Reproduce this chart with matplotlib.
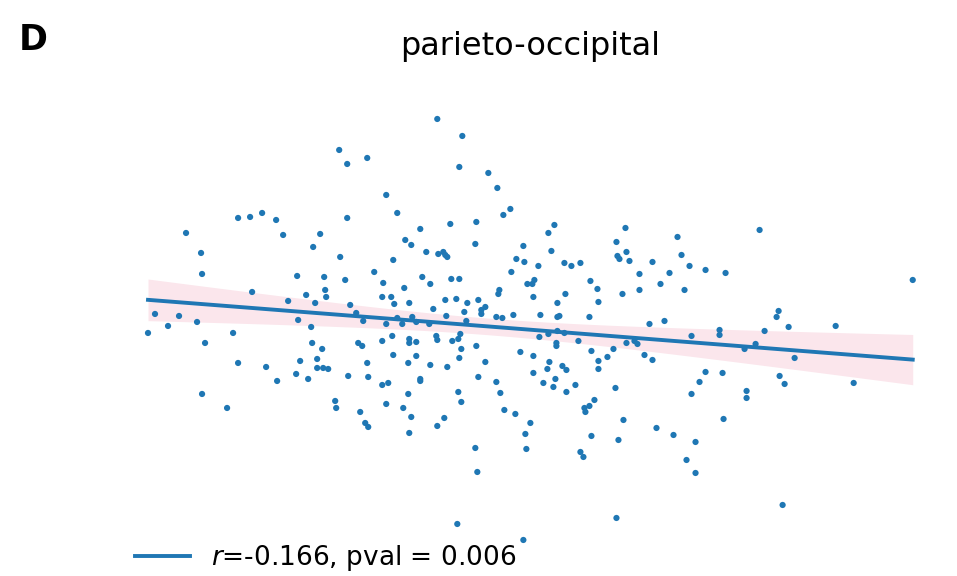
import numpy as np
import matplotlib
matplotlib.use("Agg")
import matplotlib.pyplot as plt

# parieto-occipital measure vs predictor, one value per subject
x_vals = [
    18.7, 20.2, 23.9, 25.1, 26.3, 27.7, 28.4, 31.4, 32.1, 43.8, 46.3, 34.0, 36.8, 34.8, 46.0, 48.9,
    49.8, 38.7, 39.8, 34.8, 51.1, 50.4, 45.1, 47.7, 42.1, 40.6, 41.2, 47.6, 34.1, 39.4, 42.7, 43.9,
    44.4, 44.6, 44.8, 51.7, 54.9, 55.5, 52.4, 55.2, 52.5, 53.9, 56.5, 57.2, 58.1, 61.7, 62.6, 62.7,
    61.8, 62.0, 63.0, 65.3, 67.8, 68.2, 69.0, 70.6, 76.0,
    20.3, 29.8, 32.5, 25.3, 32.6, 30.7, 28.9, 31.6, 32.7, 15.6, 18.0, 19.8, 16.9, 14.9, 29.9, 31.2,
    23.4, 20.6, 31.3, 32.3, 31.8, 30.1, 23.9, 26.7, 31.8, 32.4, 32.9, 29.7, 30.9, 27.8, 20.3, 22.8,
    34.6, 37.5, 38.4, 42.3, 43.1, 45.2, 46.0, 40.5, 38.3, 39.2, 39.5, 41.0, 44.6, 45.7, 46.8, 47.9,
    50.0, 49.9, 48.6, 48.2, 48.2, 46.5, 43.4, 35.1, 35.7, 36.4, 38.7, 39.8, 40.3, 41.3, 41.7, 43.0,
    44.7, 46.7, 49.7, 50.3, 43.7, 43.8, 46.1, 45.9, 45.3, 39.3, 41.0, 41.0, 41.7, 38.3, 35.9, 36.3,
    46.2, 47.7, 39.4, 41.7, 46.0, 48.6, 36.8, 40.9, 43.1, 44.8, 34.9, 36.9, 42.1, 42.1, 38.9, 38.3,
    47.9, 49.7, 45.9, 50.1, 40.9, 33.6, 33.7, 38.7, 40.4, 46.2, 50.5, 36.1, 41.2, 44.5,
    51.2, 64.0, 67.0, 52.8, 53.3, 53.5, 59.1, 59.8, 64.0, 66.1, 68.5, 53.4, 56.6, 62.3, 55.8, 59.9,
    51.4, 54.1, 55.8, 56.0, 59.0, 65.0, 66.5, 54.0, 54.9, 55.8, 56.5, 55.7, 55.7, 57.9, 62.7, 63.5,
    63.8, 69.2, 52.1, 59.2, 61.4, 53.4, 60.8, 59.9, 64.5, 65.3, 55.0, 54.8, 56.3, 56.7, 59.9, 53.4,
    55.6, 54.4, 55.4, 57.6, 61.6, 56.7, 70.6, 70.0, 69.2, 59.5, 59.0, 58.5, 58.6, 51.6, 62.4,
    72.6, 91.3, 77.9, 77.7, 72.0, 72.0, 76.5, 78.9, 83.6, 75.6, 74.5, 79.5, 72.3, 78.0, 78.5, 85.4,
    74.7, 74.7, 72.4,
    36.6, 36.9, 41.0, 43.8, 47.6, 47.8, 45.8, 52.4, 52.6, 52.7, 53.1, 59.2, 58.1, 58.4, 61.9, 65.7,
    67.4, 69.6, 68.7, 69.6, 78.3, 61.7,
]
y_vals = [
    9.7, 7.7, 11.2, 11.3, 11.7, 11.0, 9.5, 8.3, 9.6, 21.1, 19.4, 18.0, 17.2, 16.6, 16.3, 15.7,
    14.2, 13.5, 11.7, 11.2, 12.1, 11.5, 10.6, 10.8, 10.1, 9.0, 8.5, 8.6, 7.3, 7.0, 7.8, 7.6,
    7.8, 7.5, 7.3, 7.1, 9.7, 10.5, 8.4, 7.9, 6.8, 6.4, 6.7, 6.4, 6.7, 8.8, 10.2, 7.8,
    7.4, 7.1, 6.9, 6.8, 9.3, 7.5, 6.4, 6.0, 10.0,
    5.6, 5.4, 5.3, 3.8, 4.0, 3.5, 2.9, 2.7, 3.3, 1.6, 1.4, 0.8, 0.4, -0.3, 1.0, 0.3,
    -0.3, -1.3, -1.3, -1.9, -2.9, -3.1, -3.3, -3.7, -3.8, -3.8, -3.9, -4.4, -4.9, -5.1, -6.4, -7.8,
    5.0, 5.8, 4.7, 5.3, 4.6, 5.1, 5.1, 4.2, 3.3, 3.3, 2.6, 2.7, 3.0, 3.1, 2.7, 3.0,
    4.0, 3.6, 2.3, 2.0, 1.6, 1.8, 2.1, 2.5, 1.7, 0.9, 0.6, 1.2, 0.6, 1.3, 0.8, 0.6,
    1.4, 0.9, 1.3, 1.2, -0.6, -1.0, -0.4, -0.9, -1.1, -0.6, -0.9, -1.3, -1.2, -1.1, -1.3, -1.6,
    -1.9, -1.6, -2.5, -2.6, -2.8, -3.2, -3.3, -3.3, -3.5, -3.7, -4.6, -4.7, -4.9, -5.1, -5.3, -5.5,
    -4.7, -5.2, -6.2, -6.3, -6.4, -7.1, -7.8, -7.4, -7.8, -7.2, -8.0, -8.2, -8.7, -8.8,
    5.8, 5.6, 5.7, 4.6, 4.6, 5.0, 4.9, 4.1, 4.0, 4.6, 4.0, 3.3, 3.6, 3.6, 2.7, 2.8,
    1.5, 1.5, 1.3, 1.4, 1.3, 0.6, 0.9, -0.7, -0.4, -0.1, -0.3, -1.3, -1.6, -1.1, -1.3, -1.1,
    -1.4, -0.6, -2.2, -2.1, -1.9, -2.6, -2.7, -3.1, -2.5, -3.0, -3.2, -3.9, -3.6, -4.0, -3.9, -4.3,
    -4.9, -5.3, -5.7, -5.5, -5.8, -6.2, -4.2, -5.2, -6.4, -7.0, -7.6, -7.8, -8.2, -8.4, -9.0,
    5.7, 5.0, 1.9, 1.3, 0.0, -0.5, -0.1, 0.3, 0.4, -1.4, -1.9, -2.8, -4.3, -4.6, -5.4, -5.3,
    -6.1, -6.8, -8.9,
    -9.3, -9.7, -10.3, -9.6, -11.8, -14.2, -19.4, -21.0, -10.4, -11.9, -9.3, -10.6, -12.2, -12.7, -11.0, -9.8,
    -10.5, -11.2, -13.0, -14.3, -17.5, -18.8,
]
r_text = "-0.166"
p_text = "0.006"

x = np.asarray(x_vals)
y = np.asarray(y_vals)

# least-squares fit with 95% confidence band
slope, intercept = np.polyfit(x, y, 1)
n = len(x)
resid = y - (slope * x + intercept)
s_err = np.sqrt(np.sum(resid ** 2) / (n - 2))
grid = np.linspace(x.min(), x.max(), 100)
fit = slope * grid + intercept
se = s_err * np.sqrt(1.0 / n + (grid - x.mean()) ** 2 / np.sum((x - x.mean()) ** 2))
ci = 1.969 * se

fig = plt.figure(figsize=(9.57, 5.76), dpi=100)
ax = fig.add_axes([0.1147, 0.026, 0.879, 0.804])

ax.fill_between(grid, fit - ci, fit + ci, color="#fbe6ec", linewidth=0, zorder=1)
ax.scatter(x, y, s=20, color="#1f77b4", edgecolors="none", zorder=2)
ax.plot(grid, fit, color="#1f77b4", linewidth=2.8, zorder=3,
        label=rf"$r$={r_text}, pval = {p_text}")

ax.margins(0.05)
ax.set_xticks([])
ax.set_yticks([])
for side in ax.spines.values():
    side.set_visible(False)

ax.legend(loc="center left", bbox_to_anchor=(111 / 957, 18 / 576),
          bbox_transform=fig.transFigure, frameon=False, fontsize=19,
          handlelength=2.1)

fig.text(530 / 957, 1 - 55 / 576, "parieto-occipital", ha="center",
         va="baseline", fontsize=23)
fig.text(33 / 957, 1 - 50 / 576, "D", ha="center", va="baseline",
         fontsize=25, fontweight="bold")

fig.savefig("out.png", dpi=100)
